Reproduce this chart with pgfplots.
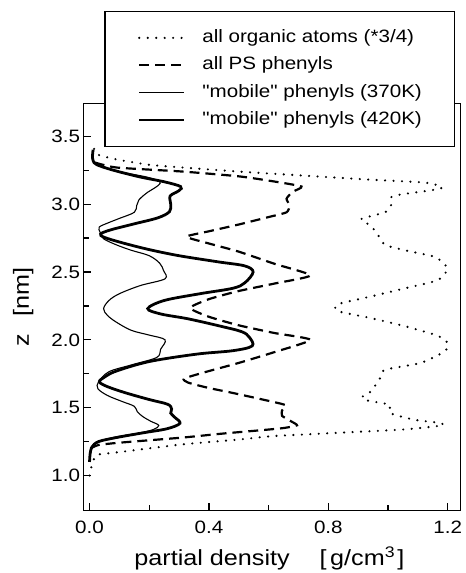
\documentclass[border=0pt]{standalone}
\usepackage{fontspec}
\setmainfont[FakeStretch=1.15, Ligatures=TeXOff]{Liberation Sans}
\usepackage{pgfplots}
\pgfplotsset{compat=1.18}

\newcommand{\ticksize}{\fontsize{18}{21}\selectfont}
\newcommand{\labelsize}{\fontsize{22}{25}\selectfont}

\begin{document}
\begin{tikzpicture}
\begin{axis}[
  scale only axis,
  width=379pt, height=409pt,
  xmin=-0.02, xmax=1.2433,
  ymin=0.743, ymax=3.742,
  xtick={0,0.4,0.8,1.2},
  ytick={1.0,1.5,2.0,2.5,3.0,3.5},
  minor x tick num=1,
  minor y tick num=1,
  xtick pos=bottom, ytick pos=left,
  tick align=inside,
  major tick length=7pt,
  minor tick length=5pt,
  every tick/.style={black, line width=1.2pt},
  axis line style={line width=1.6pt},
  /pgf/number format/assume math mode=true,
  /pgf/number format/fixed,
  /pgf/number format/fixed zerofill,
  /pgf/number format/precision=1,
  xticklabel style={font=\ticksize, yshift=-7pt},
  yticklabel style={font=\ticksize},
  xlabel={partial density\hspace{30pt}[\,g/cm$^{\mathrm{3}}$\,]},
  ylabel={z\hspace{18pt}[nm]},
  xlabel style={font=\labelsize, at={(axis description cs:0.493,-0.1345)}, anchor=base},
  ylabel style={font=\labelsize, at={(axis description cs:-0.1451,0.5)}, anchor=base},
  legend style={
    at={(axis description cs:0.0554,1.2274)}, anchor=north west,
    draw=black, line width=1.2pt, fill=white,
    inner xsep=33pt, inner ysep=19pt,
    row sep=12.5pt,
    font=\ticksize,
    nodes={inner sep=0pt, text height=12pt, text depth=3pt},
  },
  legend cell align=left,
  legend image code/.code={
    \draw[#1] (0pt,0pt) -- (45pt,0pt);
    \path (62pt,0pt);
  },
]

% all organic atoms, scaled by 3/4
\addplot[black, line width=2.4pt, line cap=round, dash pattern=on 0pt off 8.5pt, smooth, tension=0.35]
coordinates {
(0.000,1.00)(0.007,1.07)(0.023,1.15)(0.09,1.17)(0.313,1.23)(0.50,1.265)
(0.61,1.29)(0.833,1.315)(1.057,1.34)(1.183,1.37)(1.167,1.39)(1.09,1.41)
(1.007,1.46)(1.007,1.52)(0.977,1.535)(0.917,1.56)(0.917,1.59)(0.943,1.62)
(0.977,1.73)(0.99,1.78)(1.11,1.83)(1.19,1.915)(1.20,1.975)(1.167,2.03)
(1.057,2.10)(0.943,2.16)(0.833,2.21)(0.823,2.245)(0.843,2.27)(0.943,2.32)
(1.057,2.38)(1.167,2.44)(1.20,2.525)(1.167,2.60)(1.143,2.62)(1.057,2.66)
(0.99,2.70)(0.967,2.77)(0.943,2.84)(0.91,2.89)(0.99,2.94)(1.01,2.99)
(1.01,3.05)(1.04,3.07)(1.167,3.11)(1.18,3.13)(1.12,3.16)(0.943,3.18)
(0.72,3.21)(0.50,3.24)(0.313,3.27)(0.2,3.29)(0.09,3.33)(0.023,3.37)(0.01,3.46)
};
\addlegendentry{all organic atoms (*3/4)}

% all PS phenyls
\addplot[black, line width=2.2pt, dash pattern=on 10pt off 6pt, smooth, tension=0.35]
coordinates {
(0.003,1.20)(0.03,1.225)(0.09,1.24)(0.20,1.26)(0.313,1.28)(0.45,1.31)
(0.58,1.335)(0.65,1.35)(0.695,1.37)(0.675,1.40)(0.645,1.44)(0.645,1.48)
(0.655,1.52)(0.57,1.565)(0.477,1.61)(0.40,1.645)(0.33,1.685)(0.317,1.715)
(0.40,1.77)(0.50,1.83)(0.62,1.91)(0.74,2.0)(0.62,2.05)(0.50,2.107)
(0.40,2.17)(0.337,2.235)(0.40,2.30)(0.50,2.36)(0.62,2.415)(0.74,2.475)
(0.62,2.56)(0.50,2.65)(0.40,2.71)(0.325,2.76)(0.40,2.80)(0.50,2.85)
(0.60,2.905)(0.66,2.94)(0.67,2.99)(0.66,3.04)(0.68,3.09)(0.71,3.13)
(0.61,3.17)(0.50,3.205)(0.313,3.24)(0.09,3.27)(0.013,3.31)
};
\addlegendentry{all PS phenyls}

% mobile phenyls at 370 K
\addplot[black, line width=1.1pt, smooth, tension=0.55]
coordinates {
(0.000,1.10)(0.002,1.16)(0.008,1.21)(0.030,1.25)(0.09,1.285)(0.17,1.315)
(0.215,1.34)(0.232,1.37)(0.205,1.40)(0.178,1.435)(0.160,1.47)(0.150,1.51)
(0.110,1.545)(0.060,1.59)(0.028,1.64)(0.030,1.69)(0.065,1.765)(0.140,1.815)
(0.225,1.87)(0.238,1.93)(0.253,2.00)(0.20,2.035)(0.14,2.07)(0.09,2.13)
(0.06,2.18)(0.047,2.23)(0.065,2.29)(0.10,2.34)(0.17,2.40)(0.253,2.45)
(0.248,2.51)(0.235,2.565)(0.20,2.62)(0.14,2.66)(0.09,2.70)(0.047,2.745)
(0.036,2.79)(0.032,2.83)(0.06,2.86)(0.10,2.895)(0.150,2.94)(0.158,2.99)
(0.165,3.03)(0.19,3.08)(0.237,3.155)(0.20,3.195)(0.12,3.23)(0.08,3.25)
(0.025,3.29)(0.012,3.32)(0.010,3.36)(0.012,3.40)
};
\addlegendentry{"mobile" phenyls (370K)}

% mobile phenyls at 420 K
\addplot[black, line width=2.8pt, smooth, tension=0.55]
coordinates {
(0.000,1.10)(0.002,1.16)(0.008,1.21)(0.030,1.25)(0.09,1.28)(0.18,1.315)
(0.26,1.345)(0.303,1.385)(0.285,1.43)(0.272,1.46)(0.275,1.49)(0.262,1.525)
(0.20,1.56)(0.12,1.61)(0.06,1.655)(0.033,1.69)(0.05,1.725)(0.09,1.77)
(0.20,1.84)(0.36,1.895)(0.48,1.92)(0.545,1.955)(0.535,2.02)(0.51,2.06)
(0.44,2.10)(0.33,2.155)(0.24,2.19)(0.195,2.23)(0.25,2.29)(0.37,2.34)
(0.48,2.38)(0.52,2.42)(0.548,2.50)(0.52,2.545)(0.43,2.575)(0.30,2.62)
(0.20,2.665)(0.11,2.715)(0.05,2.755)(0.037,2.78)(0.07,2.81)(0.15,2.855)
(0.23,2.90)(0.268,2.945)(0.272,3.00)(0.270,3.06)(0.30,3.10)(0.305,3.13)
(0.25,3.165)(0.17,3.20)(0.08,3.25)(0.025,3.29)(0.012,3.32)(0.010,3.36)(0.012,3.40)
};
\addlegendentry{"mobile" phenyls (420K)}

\end{axis}
\path (-84pt,-60pt) rectangle (382pt,513pt);
\end{tikzpicture}
\end{document}
